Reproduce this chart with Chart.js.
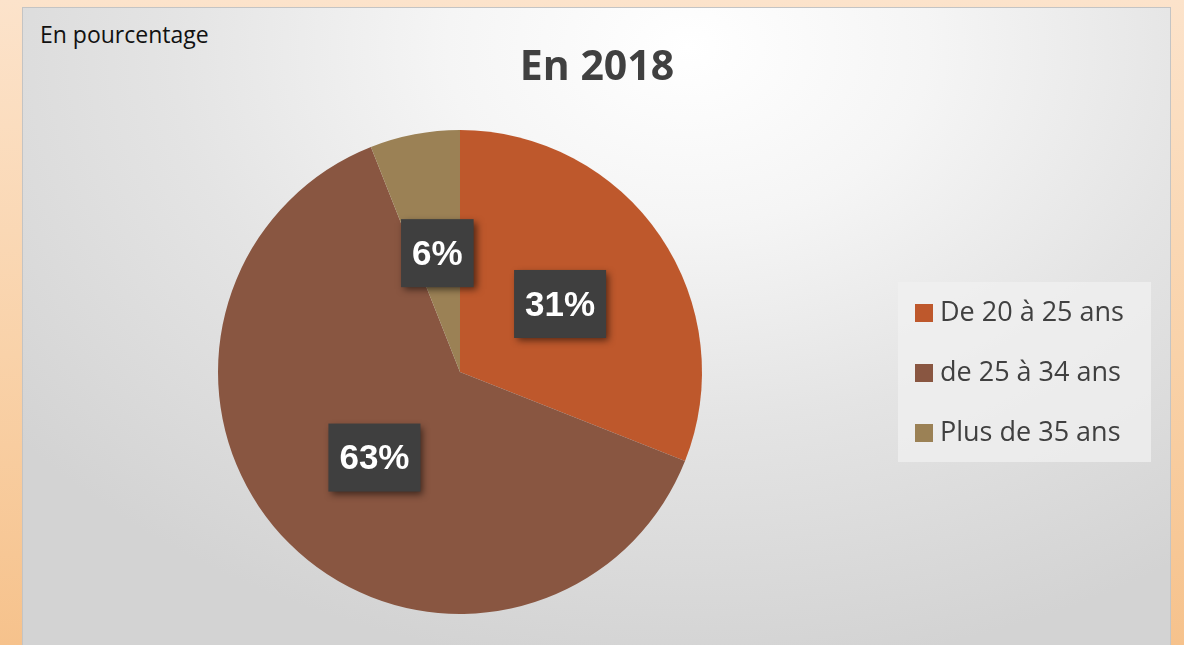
<!DOCTYPE html>
<html>
<head>
<meta charset="utf-8">
<script src="https://cdn.jsdelivr.net/npm/chart.js@4/dist/chart.umd.min.js"></script>
<style>
  html, body { margin: 0; padding: 0; }
  body {
    width: 1184px; height: 645px; overflow: hidden; position: relative;
    background: linear-gradient(to bottom, #fce3cb 0%, #f9d2a9 55%, #f6c28c 100%);
  }
  #panel {
    position: absolute; left: 22px; top: 7px; width: 1149px; height: 660px;
    border: 1px solid #c4c4c4; box-sizing: border-box;
    background: radial-gradient(ellipse 75% 95% at 58% 6%, #ffffff 0%, #f5f5f5 28%, #e4e4e4 60%, #d3d3d3 100%);
  }
  #sub {
    position: absolute; left: 40px; top: 18px;
    font-family: "Open Sans", sans-serif; font-size: 23px; color: #111;
  }
  canvas { position: absolute; left: 0; top: 0; }
</style>
</head>
<body>
<div id="panel"></div>
<div id="sub">En pourcentage</div>
<canvas id="c" width="1184" height="645"></canvas>
<script>
// values
const ageLabels = ["De 20 à 25 ans", "de 25 à 34 ans", "Plus de 35 ans"];
const shares = [31, 63, 6];
const sliceColors = ["#be582c", "#895641", "#9b8155"];

// draws the dark percent boxes and the legend on the right
const extras = {
  id: "extras",
  afterDatasetsDraw(chart) {
    const ctx = chart.ctx;
    const meta = chart.getDatasetMeta(0);
    ctx.save();
    ctx.font = "bold 35px 'Liberation Sans', Arial, sans-serif";
    ctx.textAlign = "center";
    ctx.textBaseline = "middle";
    meta.data.forEach((arc, i) => {
      const p = arc.tooltipPosition();
      const txt = shares[i] + "%";
      const w = ctx.measureText(txt).width + 22;
      const h = 68;
      ctx.save();
      ctx.shadowColor = "rgba(0,0,0,0.55)";
      ctx.shadowBlur = 7;
      ctx.shadowOffsetX = 3;
      ctx.shadowOffsetY = 3;
      ctx.fillStyle = "#3f3f3f";
      ctx.fillRect(p.x - w / 2, p.y - h / 2, w, h);
      ctx.restore();
      ctx.fillStyle = "#ffffff";
      ctx.fillText(txt, p.x, p.y + 2);
    });

    // legend
    const lx = 898, ly = 282, lw = 253, lh = 180;
    ctx.fillStyle = "rgba(240,240,240,0.75)";
    ctx.fillRect(lx, ly, lw, lh);
    ctx.font = "27px 'Open Sans', sans-serif";
    ctx.textAlign = "left";
    ctx.textBaseline = "middle";
    ageLabels.forEach((lab, i) => {
      const cy = 313 + i * 60;
      ctx.fillStyle = sliceColors[i];
      ctx.fillRect(915, cy - 9, 18, 18);
      ctx.fillStyle = "#404040";
      ctx.fillText(lab, 940, cy);
    });
    ctx.restore();
  }
};

new Chart(document.getElementById("c"), {
  type: "pie",
  data: {
    labels: ageLabels,
    datasets: [{
      data: shares,
      backgroundColor: sliceColors,
      borderWidth: 0
    }]
  },
  options: {
    responsive: false,
    animation: false,
    layout: { padding: { top: 130, bottom: 31, left: 218, right: 482 } },
    plugins: {
      legend: { display: false },
      tooltip: { enabled: false },
      title: { display: false }
    }
  },
  plugins: [extras, {
    id: "bigTitle",
    afterDraw(chart) {
      const ctx = chart.ctx;
      ctx.save();
      ctx.font = "bold 41px 'Open Sans', sans-serif";
      ctx.fillStyle = "#404040";
      ctx.textAlign = "center";
      ctx.textBaseline = "alphabetic";
      ctx.fillText("En 2018", 597, 80);
      ctx.restore();
    }
  }]
});
</script>
</body>
</html>
